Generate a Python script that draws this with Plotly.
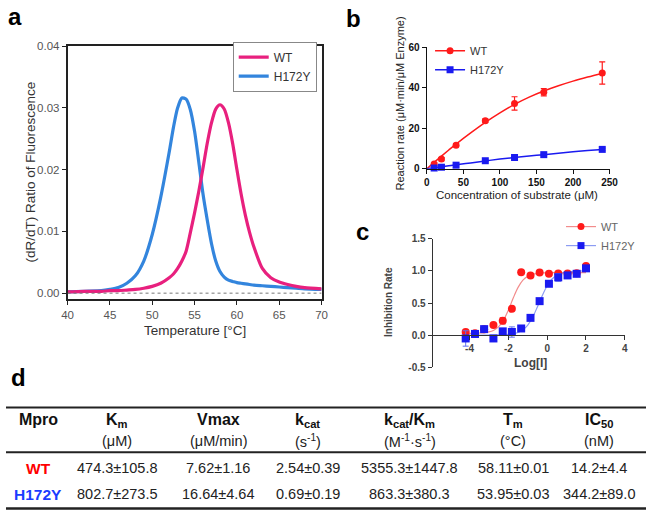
import plotly.graph_objects as go

W, H = 655, 516
def px(x): return x / W
def py(y): return 1 - y / H

FONT = "Liberation Sans, Arial, Helvetica, sans-serif"
PINK = "#E8207E"
BLUE = "#3385DD"
RED = "#FF1A1A"
DBLUE = "#1A1AF0"

# ---------------- panel a : melting curves ----------------
TEMP = [40, 42, 44, 45, 46, 47, 48, 49, 50, 51, 52, 52.5, 53, 53.5, 54, 54.5, 55, 55.5,
        56, 56.5, 57, 57.5, 58, 58.5, 59, 59.5, 60, 60.5, 61, 61.5, 62, 63, 64, 65, 66, 67, 68, 70]
WT_DRDT = [0.0002, 0.0003, 0.0003, 0.0004, 0.0004, 0.0005, 0.0006, 0.0008, 0.0011, 0.0016,
           0.0025, 0.0031, 0.0040, 0.0052, 0.0068, 0.0098, 0.0130, 0.0165, 0.0203, 0.0243,
           0.0276, 0.0298, 0.0305, 0.0298, 0.0276, 0.0242, 0.0200, 0.0160, 0.0126, 0.0098,
           0.0075, 0.0040, 0.0025, 0.0018, 0.0014, 0.0011, 0.0009, 0.0007]
H172Y_DRDT = [0.0002, 0.0003, 0.0004, 0.0006, 0.0009, 0.0016, 0.0028, 0.0052, 0.0095, 0.0155,
              0.0228, 0.0268, 0.0300, 0.0316, 0.0314, 0.0297, 0.0262, 0.0212, 0.0160, 0.0118,
              0.0080, 0.0052, 0.0035, 0.0026, 0.0021, 0.0019, 0.0017, 0.0016, 0.0015, 0.0014,
              0.0013, 0.0012, 0.0011, 0.0010, 0.0009, 0.0008, 0.0007, 0.0006]
A_XTICKS = [40, 45, 50, 55, 60, 65, 70]
A_YTICKS = [0.0, 0.01, 0.02, 0.03, 0.04]
A_YTEXT = ["0.00", "0.01", "0.02", "0.03", "0.04"]

# ---------------- panel b : kinetics ----------------
SUBSTRATE = [10, 20, 40, 80, 120, 160, 240]
WT_RATE = [2.4, 4.8, 11.7, 23.8, 32.3, 37.8, 47.3]
WT_RATE_ERR = [0.6, 0.8, 0.8, 0.9, 3.3, 1.8, 5.5]
H_RATE = [0.4, 0.8, 1.8, 4.0, 5.6, 7.0, 9.6]
H_RATE_ERR = [0.3, 0.3, 0.3, 0.4, 0.5, 0.5, 0.6]
S_FIT = [0, 10, 20, 30, 40, 60, 80, 100, 120, 140, 160, 180, 200, 220, 240]
WT_RATE_FIT = [0, 3.2, 6.3, 9.3, 12.2, 17.7, 22.9, 27.6, 31.8, 35.4, 38.4, 41.0, 43.3, 45.3, 47.1]
H_RATE_FIT = [0, 0.5, 1.0, 1.5, 2.0, 2.9, 3.9, 4.8, 5.6, 6.3, 7.0, 7.7, 8.4, 9.0, 9.6]
B_XTICKS = [0, 50, 100, 150, 200, 250]
B_YTICKS = [0, 20, 40, 60]

# ---------------- panel c : inhibition ----------------
LOG_I = [-4.2, -3.72, -3.25, -2.77, -2.29, -1.82, -1.34, -0.86, -0.39, 0.09, 0.57, 1.05, 1.52, 2.0]
WT_INH = [0.05, 0.03, 0.095, 0.16, 0.225, 0.41, 0.98, 0.93, 0.975, 0.955, 0.96, 0.96, 0.965, 1.075]
WT_INH_ERR = [0.02, 0.02, 0.02, 0.02, 0.05, 0.02, 0.02, 0.03, 0.02, 0.02, 0.02, 0.02, 0.02, 0.02]
H_INH = [-0.05, 0.02, 0.095, -0.05, 0.06, 0.05, 0.105, 0.27, 0.53, 0.80, 0.90, 0.93, 0.955, 1.04]
H_INH_ERR = [0.12, 0.05, 0.02, 0.03, 0.04, 0.08, 0.02, 0.02, 0.02, 0.03, 0.06, 0.02, 0.02, 0.02]
LOG_FIT_WT = [-4.2, -3.5, -3.0, -2.75, -2.5, -2.25, -2.0, -1.75, -1.5, -1.25, -1.0, -0.75, -0.5, 0.0, 1.0, 2.0]
WT_INH_FIT = [0.03, 0.035, 0.053, 0.079, 0.133, 0.234, 0.39, 0.578, 0.744, 0.856, 0.918, 0.948,
              0.963, 0.973, 0.975, 0.975]
LOG_FIT_H = [-4.2, -3.0, -2.0, -1.5, -1.25, -1.0, -0.75, -0.5, -0.25, 0.0, 0.25, 0.5, 0.75, 1.0, 1.5, 2.0]
H_INH_FIT = [0.0, 0.002, 0.012, 0.043, 0.084, 0.158, 0.28, 0.443, 0.619, 0.77, 0.874, 0.934,
             0.966, 0.983, 0.996, 1.0]
C_XTICKS = [-4, -2, 0, 2, 4]
C_XTEXT = ["-4", "-2", "0", "2", "4"]
C_YTICKS = [-0.5, 0.0, 0.5, 1.0, 1.5]
C_YTEXT = ["-0.5", "0.0", "0.5", "1.0", "1.5"]

# ---------------- panel d : table ----------------
COL_X = [33, 114, 217, 309, 413, 519, 607]
HEADERS = ["Mpro", "K<sub>m</sub>", "Vmax", "k<sub>cat</sub>", "k<sub>cat</sub>/K<sub>m</sub>",
           "T<sub>m</sub>", "IC<sub>50</sub>"]
UNITS = ["", "(μM)", "(μM/min)", "(s<sup>-1</sup>)", "(M<sup>-1</sup>·s<sup>-1</sup>)", "(°C)", "(nM)"]
ROW_NAMES = ["WT", "H172Y"]
ROW_COLORS = ["#FF0000", "#1A3CFF"]
WT_ROW = ["474.3±105.8", "7.62±1.16", "2.54±0.39", "5355.3±1447.8", "58.11±0.01", "14.2±4.4"]
H_ROW = ["802.7±273.5", "16.64±4.64", "0.69±0.19", "863.3±380.3", "53.95±0.03", "344.2±89.0"]

fig = go.Figure()

# panel a traces
fig.add_trace(go.Scatter(x=TEMP, y=H172Y_DRDT, mode="lines", name="H172Y", legendrank=2,
                         line=dict(color=BLUE, width=3.2, shape="spline", smoothing=0.7),
                         xaxis="x", yaxis="y", legend="legend"))
fig.add_trace(go.Scatter(x=TEMP, y=WT_DRDT, mode="lines", name="WT", legendrank=1,
                         line=dict(color=PINK, width=3.2, shape="spline", smoothing=0.7),
                         xaxis="x", yaxis="y", legend="legend"))

# panel b traces
fig.add_trace(go.Scatter(x=S_FIT, y=WT_RATE_FIT, mode="lines", showlegend=False,
                         line=dict(color=RED, width=1.5, shape="spline"), xaxis="x2", yaxis="y2"))
fig.add_trace(go.Scatter(x=S_FIT, y=H_RATE_FIT, mode="lines", showlegend=False,
                         line=dict(color=DBLUE, width=1.5, shape="spline"), xaxis="x2", yaxis="y2"))
fig.add_trace(go.Scatter(x=SUBSTRATE, y=WT_RATE, mode="markers", showlegend=False, cliponaxis=False,
                         marker=dict(color=RED, size=7, symbol="circle"),
                         error_y=dict(type="data", array=WT_RATE_ERR, color=RED, thickness=1.2, width=3),
                         xaxis="x2", yaxis="y2"))
fig.add_trace(go.Scatter(x=SUBSTRATE, y=H_RATE, mode="markers", showlegend=False, cliponaxis=False,
                         marker=dict(color=DBLUE, size=7, symbol="square"),
                         error_y=dict(type="data", array=H_RATE_ERR, color=DBLUE, thickness=1.2, width=3),
                         xaxis="x2", yaxis="y2"))
fig.add_trace(go.Scatter(x=[None], y=[None], mode="lines+markers", name="WT", legend="legend2",
                         line=dict(color=RED, width=1.5), marker=dict(color=RED, size=7, symbol="circle"),
                         xaxis="x2", yaxis="y2"))
fig.add_trace(go.Scatter(x=[None], y=[None], mode="lines+markers", name="H172Y", legend="legend2",
                         line=dict(color=DBLUE, width=1.5), marker=dict(color=DBLUE, size=7, symbol="square"),
                         xaxis="x2", yaxis="y2"))

# panel c traces
fig.add_trace(go.Scatter(x=LOG_FIT_WT, y=WT_INH_FIT, mode="lines", showlegend=False,
                         line=dict(color="#F28C8C", width=1.2, shape="spline"), xaxis="x3", yaxis="y3"))
fig.add_trace(go.Scatter(x=LOG_FIT_H, y=H_INH_FIT, mode="lines", showlegend=False,
                         line=dict(color="#8C9CF2", width=1.2, shape="spline"), xaxis="x3", yaxis="y3"))
fig.add_trace(go.Scatter(x=LOG_I, y=WT_INH, mode="markers", showlegend=False, cliponaxis=False,
                         marker=dict(color=RED, size=8, symbol="circle"),
                         error_y=dict(type="data", array=WT_INH_ERR, color="#F06060", thickness=1, width=3),
                         xaxis="x3", yaxis="y3"))
fig.add_trace(go.Scatter(x=LOG_I, y=H_INH, mode="markers", showlegend=False, cliponaxis=False,
                         marker=dict(color=DBLUE, size=8, symbol="square"),
                         error_y=dict(type="data", array=H_INH_ERR, color="#6070F0", thickness=1, width=3),
                         xaxis="x3", yaxis="y3"))
fig.add_trace(go.Scatter(x=[None], y=[None], mode="lines+markers", name="WT", legend="legend3",
                         line=dict(color="#F28C8C", width=1.2), marker=dict(color=RED, size=7, symbol="circle"),
                         xaxis="x3", yaxis="y3"))
fig.add_trace(go.Scatter(x=[None], y=[None], mode="lines+markers", name="H172Y", legend="legend3",
                         line=dict(color="#8C9CF2", width=1.2), marker=dict(color=DBLUE, size=7, symbol="square"),
                         xaxis="x3", yaxis="y3"))

ax_common = dict(showgrid=False, zeroline=False, ticks="outside", ticklen=4, tickwidth=1)

fig.update_layout(
    width=W, height=H, margin=dict(l=0, r=0, t=0, b=0),
    paper_bgcolor="white", plot_bgcolor="white",
    font=dict(family=FONT, color="#222"),
    xaxis=dict(domain=[px(63), px(323)], range=[40, 70], anchor="y", tickvals=A_XTICKS,
               showline=True, linecolor="#222", linewidth=1.5, mirror=True, tickcolor="#222",
               tickfont=dict(size=11.5, color="#555"), **ax_common),
    yaxis=dict(domain=[py(300), py(41)], range=[-0.00095, 0.04], anchor="x", tickvals=A_YTICKS,
               ticktext=A_YTEXT, showline=True, linecolor="#222", linewidth=1.5, mirror=True,
               tickcolor="#222", tickfont=dict(size=11.5, color="#555"), **ax_common),
    xaxis2=dict(domain=[px(430.7), px(617.7)], range=[0, 250], anchor="y2", tickvals=B_XTICKS,
                showline=True, linecolor="#111", linewidth=1.3, tickcolor="#111",
                tickfont=dict(size=10, color="#111", weight="bold"), **ax_common),
    yaxis2=dict(domain=[py(166.7), py(42.3)], range=[0, 60], anchor="x2", tickvals=B_YTICKS,
                showline=True, linecolor="#111", linewidth=1.3, tickcolor="#111",
                tickfont=dict(size=10, color="#111", weight="bold"), **ax_common),
    xaxis3=dict(domain=[px(436.7), px(633.3)], range=[-5.9, 4], anchor="free", position=py(337),
                tickvals=C_XTICKS, ticktext=C_XTEXT, showline=True, linecolor="#333", linewidth=1.3,
                tickcolor="#333", tickfont=dict(size=10, color="#444", weight="bold"), **ax_common),
    yaxis3=dict(domain=[py(370), py(238.3)], range=[-0.5, 1.5], anchor="x3", tickvals=C_YTICKS,
                ticktext=C_YTEXT, showline=True, linecolor="#333", linewidth=1.3, tickcolor="#333",
                tickfont=dict(size=10, color="#444", weight="bold"), **ax_common),
    legend=dict(x=px(318), y=py(62), xanchor="right", yanchor="middle", bgcolor="white",
                bordercolor="#888", borderwidth=1, font=dict(size=12, color="#333"), itemwidth=30,
                tracegroupgap=0),
    legend2=dict(x=px(434), y=py(31), xanchor="left", yanchor="top", bgcolor="rgba(0,0,0,0)",
                 font=dict(size=11, color="#333"), itemwidth=30),
    legend3=dict(x=px(568), y=py(211), xanchor="left", yanchor="top", bgcolor="rgba(0,0,0,0)",
                 font=dict(size=11, color="#666"), itemwidth=30),
)

shapes = [
    dict(type="line", xref="x", yref="y", x0=40, x1=70, y0=0, y1=0,
         line=dict(color="#777", width=1, dash="dot")),
    dict(type="line", xref="paper", yref="paper", x0=0, x1=1, y0=py(411), y1=py(411),
         line=dict(color="#222", width=2)),
    dict(type="line", xref="paper", yref="paper", x0=0, x1=1, y0=py(457), y1=py(457),
         line=dict(color="#222", width=2)),
    dict(type="line", xref="paper", yref="paper", x0=0, x1=1, y0=py(514.5), y1=py(514.5),
         line=dict(color="#222", width=2.5)),
]
fig.update_layout(shapes=shapes)

ann = []
def add(text, x, y, size, color="#222", bold=False, angle=0, xanchor="center"):
    t = f"<b>{text}</b>" if bold else text
    ann.append(dict(text=t, x=px(x), y=py(y), xref="paper", yref="paper", showarrow=False,
                    xanchor=xanchor, yanchor="middle", textangle=angle,
                    font=dict(size=size, color=color, family=FONT)))

# panel letters
add("a", 9, 11, 24, "#000", True)
add("b", 356, 13, 24, "#000", True)
add("c", 365, 231, 24, "#000", True)
add("d", 13, 380, 24, "#000", True)

# axis titles
add("(dR/dT) Ratio of Fluorescence", 25, 170, 13.5, "#333", angle=-90)
add("Temperature [°C]", 193, 332, 13.5, "#333")
add("Reaction rate (μM·min/μM Enzyme)", 403, 100, 11, "#222", angle=-90)
add("Concentration of substrate (μM)", 523, 193, 11.5, "#222")
add("Inhibition Rate", 392, 303, 10, "#444", True, angle=-90)
add("Log[I]", 537, 365, 12, "#444", True)

# table
for cx, h, u in zip(COL_X, HEADERS, UNITS):
    hy = 424.5 if "<sub>" in h else 423
    add(h, cx, hy, 16, "#111", True)
    if u:
        add(u, cx, 445.5, 14.5, "#222")
for i, (name, color) in enumerate(zip(ROW_NAMES, ROW_COLORS)):
    yrow = 473 if i == 0 else 500
    add(name, COL_X[0], yrow, 15.5, color, True)
    vals = WT_ROW if i == 0 else H_ROW
    for cx, v in zip(COL_X[1:], vals):
        add(v, cx, yrow, 14.5, "#222")

fig.update_layout(annotations=ann)
fig.write_html("out.html", config={"displayModeBar": False},
               post_script="document.body.style.margin='0px';document.body.style.overflow='hidden';")
